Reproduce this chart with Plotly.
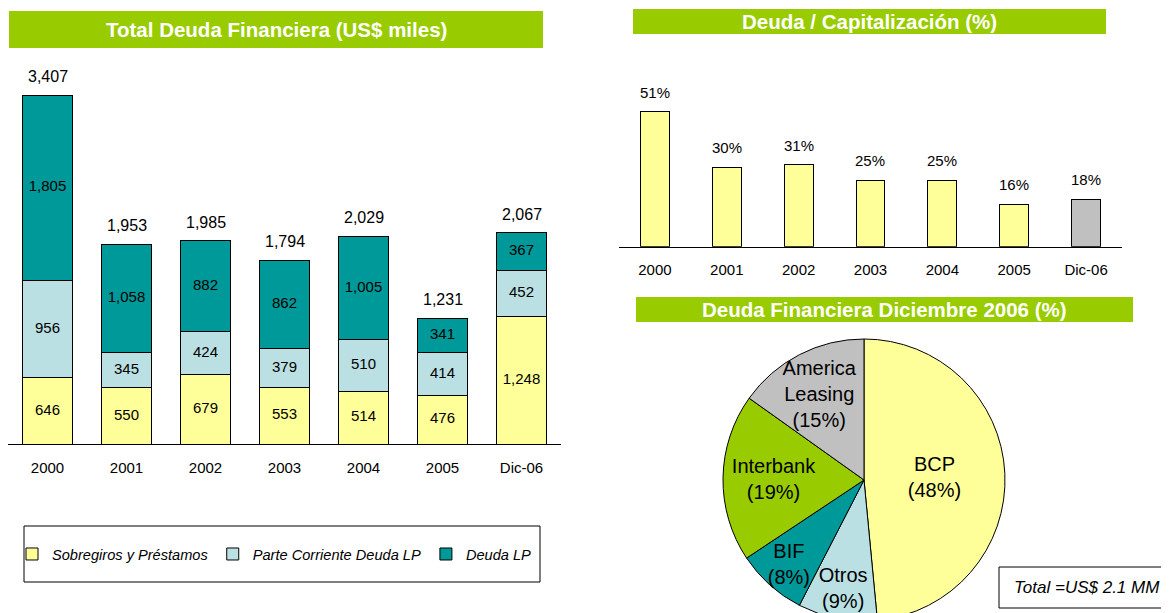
import plotly.graph_objects as go

W, H = 1169, 613
OFF = 8  # page body margin in the screenshot

# ---------------- data ----------------
years = ["2000", "2001", "2002", "2003", "2004", "2005", "Dic-06"]
sobregiros = [646, 550, 679, 553, 514, 476, 1248]
parte_corriente = [956, 345, 424, 379, 510, 414, 452]
deuda_lp = [1805, 1058, 882, 862, 1005, 341, 367]
totales = [3407, 1953, 1985, 1794, 2029, 1231, 2067]

capitalizacion = [51, 30, 31, 25, 25, 16, 18]

pie_labels = ["BCP", "Otros", "BIF", "Interbank", "America Leasing"]
pie_text_labels = ["BCP", "Otros", "BIF", "Interbank", "America<br>Leasing"]
pie_values = [48, 9, 8, 19, 15]

series_names = ["Sobregiros y Préstamos", "Parte Corriente Deuda LP", "Deuda LP"]

# ---------------- styles ----------------
YELLOW = "#FFFF99"
LIGHTBLUE = "#BBE0E3"
TEAL = "#009999"
GREEN = "#99CC00"
GREY = "#C0C0C0"
FONT = "Arial, Liberation Sans, sans-serif"


def px_x(x):
    return (x - OFF) / W


def px_y(y):
    return 1 - (y - OFF) / H


fig = go.Figure()

# ---------------- left stacked bars ----------------
stack = [sobregiros, parte_corriente, deuda_lp]
for name, vals, col in zip(series_names, stack, [YELLOW, LIGHTBLUE, TEAL]):
    fig.add_trace(go.Bar(
        x=years, y=vals, name=name,
        marker=dict(color=col, line=dict(color="black", width=1)),
        xaxis="x", yaxis="y", showlegend=True, hoverinfo="x+y+name",
    ))

# segment labels (at the middle of every stacked segment)
seg_x, seg_y, seg_t = [], [], []
base = [0] * len(years)
for vals in stack:
    for i, v in enumerate(vals):
        seg_x.append(years[i])
        seg_y.append(base[i] + v / 2)
        seg_t.append(f"{v:,}")
        base[i] += v
fig.add_trace(go.Scatter(
    x=seg_x, y=seg_y, text=seg_t, mode="text", textposition="middle center",
    textfont=dict(size=15, color="black", family=FONT),
    xaxis="x", yaxis="y", showlegend=False, hoverinfo="skip",
))

# ---------------- right bars ----------------
fig.add_trace(go.Bar(
    x=years, y=capitalizacion, width=0.4,
    marker=dict(color=[YELLOW] * 6 + [GREY], line=dict(color="black", width=1)),
    xaxis="x2", yaxis="y2", showlegend=False,
))

# ---------------- pie ----------------
cx, cy, r = 864, 480, 141
fig.add_trace(go.Pie(
    labels=pie_labels, values=pie_values,
    text=[f"{l}<br>({v}%)" for l, v in zip(pie_text_labels, pie_values)],
    textinfo="text", textposition="inside", insidetextorientation="horizontal",
    textfont=dict(size=20, color="black", family=FONT),
    marker=dict(colors=[YELLOW, LIGHTBLUE, TEAL, GREEN, GREY], line=dict(color="black", width=1)),
    sort=False, direction="clockwise", rotation=0,
    domain=dict(x=[px_x(cx - r), px_x(cx + r)], y=[max(0, px_y(cy + r)), px_y(cy - r)]),
    showlegend=False, hoverinfo="label+value",
))

annotations = []
# category axes: position annotations by category index
for i, t in enumerate(totales):
    annotations.append(dict(x=i, y=t, xref="x", yref="y", text=f"{t:,}", showarrow=False,
                            yanchor="bottom", yshift=8, font=dict(size=16, color="black", family=FONT)))
for i, c in enumerate(capitalizacion):
    annotations.append(dict(x=i, y=c, xref="x2", yref="y2", text=f"{c}%", showarrow=False,
                            yanchor="bottom", yshift=9, font=dict(size=15, color="black", family=FONT)))

shapes = []


def banner(x0, x1, y0, y1, text):
    shapes.append(dict(type="rect", xref="paper", yref="paper",
                       x0=px_x(x0), x1=px_x(x1), y0=px_y(y1), y1=px_y(y0),
                       fillcolor=GREEN, line=dict(width=0), layer="below"))
    annotations.append(dict(x=px_x((x0 + x1) / 2), y=px_y((y0 + y1) / 2), xref="paper", yref="paper",
                            text=f"<b>{text}</b>", showarrow=False, xanchor="center", yanchor="middle",
                            font=dict(size=20.5, color="white", family=FONT)))


banner(9, 543, 11, 48, "Total Deuda Financiera (US$ miles)")
banner(633, 1106, 9, 34, "Deuda / Capitalización (%)")
banner(636, 1133, 297, 322, "Deuda Financiera Diciembre 2006 (%)")

# legend box
shapes.append(dict(type="rect", xref="paper", yref="paper",
                   x0=px_x(24), x1=px_x(540), y0=px_y(582), y1=px_y(526),
                   line=dict(color="black", width=1), fillcolor="rgba(0,0,0,0)"))

# total box
shapes.append(dict(type="rect", xref="paper", yref="paper",
                   x0=px_x(999), x1=px_x(1167), y0=px_y(608), y1=px_y(567),
                   line=dict(color="black", width=1), fillcolor="white"))
annotations.append(dict(x=px_x(1087), y=px_y(587.5), xref="paper", yref="paper",
                        text="<i>Total =US$ 2.1 MM</i>", showarrow=False,
                        xanchor="center", yanchor="middle",
                        font=dict(size=17, color="black", family=FONT)))

base_left = 444
scale_left = (444.3 - 95.7) / 3407
base_right = 246.7
scale_right = 2.65
ncat = len(years)

fig.update_layout(
    width=W, height=H,
    margin=dict(l=0, r=0, t=0, b=0),
    paper_bgcolor="white", plot_bgcolor="rgba(0,0,0,0)",
    barmode="stack",
    font=dict(family=FONT, size=15, color="black"),
    uniformtext=dict(minsize=20, mode="show"),
    xaxis=dict(type="category", categoryorder="array", categoryarray=years,
               range=[-0.5, ncat - 0.5], domain=[px_x(8), px_x(561)],
               showline=True, linecolor="black", linewidth=1,
               showgrid=False, zeroline=False, ticks="", ticklabelstandoff=10,
               tickfont=dict(size=15), fixedrange=True),
    yaxis=dict(domain=[px_y(base_left), px_y(60)], range=[0, (base_left - 60) / scale_left],
               visible=False, fixedrange=True),
    xaxis2=dict(type="category", categoryorder="array", categoryarray=years,
                range=[-0.5, ncat - 0.5], domain=[px_x(619), px_x(1122)], anchor="y2",
                showline=True, linecolor="black",
                linewidth=1, showgrid=False, zeroline=False, ticks="", ticklabelstandoff=9,
                tickfont=dict(size=15), fixedrange=True),
    yaxis2=dict(domain=[px_y(base_right), px_y(50)], range=[0, (base_right - 50) / scale_right],
                anchor="x2", visible=False, fixedrange=True),
    bargap=0.37,
    showlegend=True,
    legend=dict(orientation="h", x=px_x(12), y=px_y(554), xanchor="left", yanchor="middle",
                bgcolor="rgba(0,0,0,0)", borderwidth=0, traceorder="normal",
                font=dict(size=14.6, style="italic", family=FONT), itemwidth=30),
    annotations=annotations,
    shapes=shapes,
)

fig.write_html("out.html")
